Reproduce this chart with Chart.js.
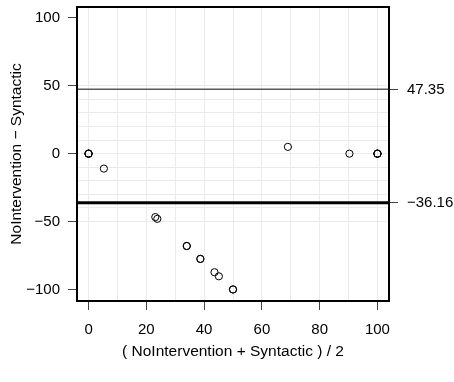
<!DOCTYPE html>
<html>
<head>
<meta charset="utf-8">
<script src="https://cdn.jsdelivr.net/npm/chart.js@4.4.1/dist/chart.umd.min.js"></script>
<style>
  html, body { margin: 0; padding: 0; background: #fff; }
</style>
</head>
<body>
<canvas id="baChart" width="454" height="382"></canvas>
<script>
// mean of the two methods (x) and their difference (y); repeats are overlapping points
const avgValues = [0, 0, 0, 0, 5.3, 23.1, 23.8, 34, 34, 38.7, 38.7, 43.6, 45.1, 50, 50, 69, 90.3, 100, 100, 100, 100];
const diffValues = [0, 0, 0, 0, -11, -46.7, -48, -68, -68, -77.5, -77.5, -87.3, -90.3, -100, -100, 5, 0, 0, 0, 0, 0];
const meanDiff = -36.16;
const upperLimit = 47.35;
const xTicks = [0, 20, 40, 60, 80, 100];
const yTicks = [-100, -50, 0, 50, 100];
const xRange = [-4, 104];
const yRange = [-108.5, 108];

const fontFamily = "'Liberation Sans', Arial, Helvetica, sans-serif";
const fontSize = 15;
const titleSize = 15.5;

const points = avgValues.map((x, i) => ({ x: x, y: diffValues[i] }));

function hLine(value) {
  return [{ x: xRange[0], y: value }, { x: xRange[1], y: value }];
}

const boxPlugin = {
  id: "box",
  afterDraw(chart) {
    const a = chart.chartArea;
    const ctx = chart.ctx;
    ctx.save();
    ctx.strokeStyle = "#000";
    ctx.lineWidth = 2;
    ctx.strokeRect(a.left, a.top, a.right - a.left, a.bottom - a.top);
    ctx.restore();
  }
};

new Chart(document.getElementById("baChart"), {
  type: "scatter",
  data: {
    datasets: [
      {
        data: points,
        pointStyle: "circle",
        pointRadius: 3.6,
        pointBorderWidth: 1,
        pointBorderColor: "#000",
        pointBackgroundColor: "rgba(0,0,0,0)",
        order: 0
      },
      {
        type: "line",
        data: hLine(upperLimit),
        borderColor: "#5a5a5a",
        borderWidth: 1.5,
        pointRadius: 0,
        order: 1
      },
      {
        type: "line",
        data: hLine(meanDiff),
        borderColor: "#000",
        borderWidth: 3,
        pointRadius: 0,
        order: 1
      }
    ]
  },
  options: {
    responsive: false,
    animation: false,
    layout: { padding: { top: 7, left: 0, right: 0, bottom: 0 } },
    plugins: {
      legend: { display: false },
      tooltip: { enabled: false }
    },
    scales: {
      x: {
        type: "linear",
        min: xRange[0],
        max: xRange[1],
        afterBuildTicks: s => { s.ticks = [0, 10, 20, 30, 40, 50, 60, 70, 80, 90, 100].map(v => ({ value: v })); },
        afterFit: s => { s.height = 81; s.paddingLeft = 0; s.paddingRight = 0; },
        border: { display: false },
        grid: {
          color: "#ebebeb",
          lineWidth: 1,
          tickLength: 9,
          tickColor: c => (xTicks.includes(c.tick.value) ? "#444" : "rgba(0,0,0,0)"),
          tickWidth: 1
        },
        ticks: {
          autoSkip: false,
          maxRotation: 0,
          padding: 11,
          color: "#000",
          font: { family: fontFamily, size: fontSize },
          callback: v => (xTicks.includes(v) ? String(v) : "")
        },
        title: {
          display: true,
          text: "( NoIntervention + Syntactic ) / 2",
          color: "#000",
          font: { family: fontFamily, size: titleSize },
          padding: { top: 0, bottom: 21 }
        }
      },
      y: {
        type: "linear",
        position: "left",
        min: yRange[0],
        max: yRange[1],
        afterBuildTicks: s => { s.ticks = [-100, -50, -40, -30, -20, -10, 0, 10, 20, 30, 40, 50, 100].map(v => ({ value: v })); },
        afterFit: s => { s.width = 77; s.paddingTop = 0; s.paddingBottom = 0; },
        border: { display: false },
        grid: {
          color: c => (Math.abs(c.tick.value) === 100 ? "rgba(0,0,0,0)" : "#ebebeb"),
          lineWidth: 1,
          tickLength: 9,
          tickColor: c => (yTicks.includes(c.tick.value) ? "#444" : "rgba(0,0,0,0)"),
          tickWidth: 1
        },
        ticks: {
          autoSkip: false,
          padding: 8,
          color: "#000",
          font: { family: fontFamily, size: fontSize },
          callback: v => (yTicks.includes(v) ? String(v).replace("-", "\u2212") : "")
        },
        title: {
          display: true,
          text: "NoIntervention \u2212 Syntactic",
          color: "#000",
          font: { family: fontFamily, size: titleSize },
          padding: { top: 7, bottom: 7 }
        }
      },
      y2: {
        type: "linear",
        position: "right",
        min: yRange[0],
        max: yRange[1],
        afterBuildTicks: s => { s.ticks = [upperLimit, meanDiff].map(v => ({ value: v })); },
        afterFit: s => { s.width = 65; s.paddingTop = 0; s.paddingBottom = 0; },
        border: { display: false },
        grid: {
          drawOnChartArea: false,
          tickLength: 9,
          tickColor: "#444",
          tickWidth: 1
        },
        ticks: {
          autoSkip: false,
          padding: 9,
          color: "#000",
          font: { family: fontFamily, size: fontSize },
          callback: v => v.toFixed(2).replace("-", "\u2212")
        }
      }
    }
  },
  plugins: [boxPlugin]
});
</script>
</body>
</html>
